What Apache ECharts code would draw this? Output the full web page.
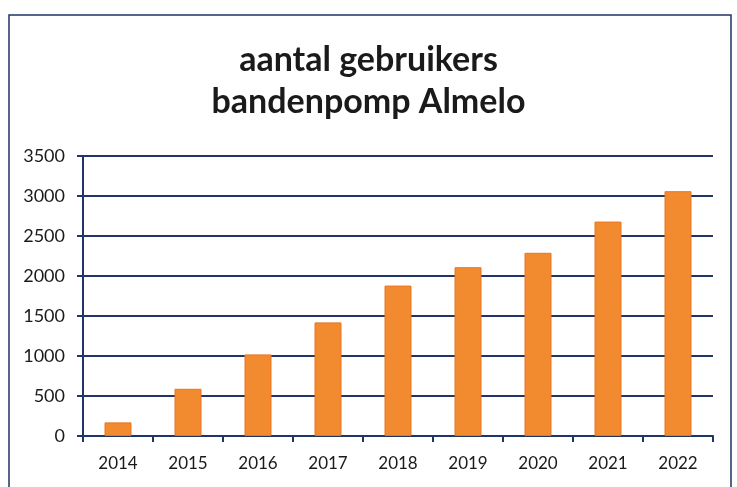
<!DOCTYPE html>
<html>
<head>
<meta charset="utf-8">
<script src="https://cdn.jsdelivr.net/npm/echarts@6/dist/echarts.min.js"></script>
<style>
    html, body { margin: 0; padding: 0; background: #fff; }
    #chart { width: 737px; height: 487px; }
</style>
</head>
<body>
<div id="chart"></div>
<script>
const years = ["2014", "2015", "2016", "2017", "2018", "2019", "2020", "2021", "2022"];
const gebruikers = [170, 590, 1020, 1420, 1880, 2110, 2290, 2680, 3060];
const yTicks = [0, 500, 1000, 1500, 2000, 2500, 3000, 3500];

const navy = "#1f3566";
const font = "Lato, 'Open Sans', sans-serif";

const chart = echarts.init(document.getElementById("chart"));

chart.setOption({
    animation: false,
    backgroundColor: "#fff",
    graphic: [
        {
            // scanned frame around the chart
            type: "rect",
            shape: { x: 9, y: 15, width: 722, height: 500 },
            style: { fill: "none", stroke: navy, lineWidth: 1.5 },
            silent: true,
        },
    ],
    title: {
        text: "aantal gebruikers\nbandenpomp Almelo",
        left: "center",
        top: 34,
        textStyle: {
            fontFamily: font,
            fontWeight: "bold",
            fontSize: 34,
            lineHeight: 42,
            color: "#1a1a1a",
        },
    },
    grid: {
        left: 83,
        right: 24,
        top: 156,
        bottom: 51,
    },
    xAxis: {
        type: "category",
        data: years,
        axisLine: { lineStyle: { color: navy, width: 2 } },
        axisTick: { show: true, length: 6, lineStyle: { color: navy, width: 2 } },
        axisLabel: {
            margin: 19,
            fontFamily: font,
            fontSize: 17,
            color: "#1a1a1a",
        },
    },
    yAxis: {
        type: "value",
        min: yTicks[0],
        max: yTicks[yTicks.length - 1],
        interval: 500,
        axisLine: { show: true, lineStyle: { color: navy, width: 2 } },
        axisTick: { show: true, length: 6, lineStyle: { color: navy, width: 2 } },
        axisLabel: {
            margin: 18,
            fontFamily: font,
            fontSize: 18,
            color: "#1a1a1a",
            formatter: (v) => String(v),
        },
        splitLine: { lineStyle: { color: navy, width: 2 } },
    },
    series: [
        {
            name: "gebruikers",
            type: "bar",
            data: gebruikers,
            barWidth: 27,
            itemStyle: {
                color: "#f28a30",
                borderColor: "#ea7420",
                borderWidth: 1,
            },
        },
    ],
});
</script>
</body>
</html>
